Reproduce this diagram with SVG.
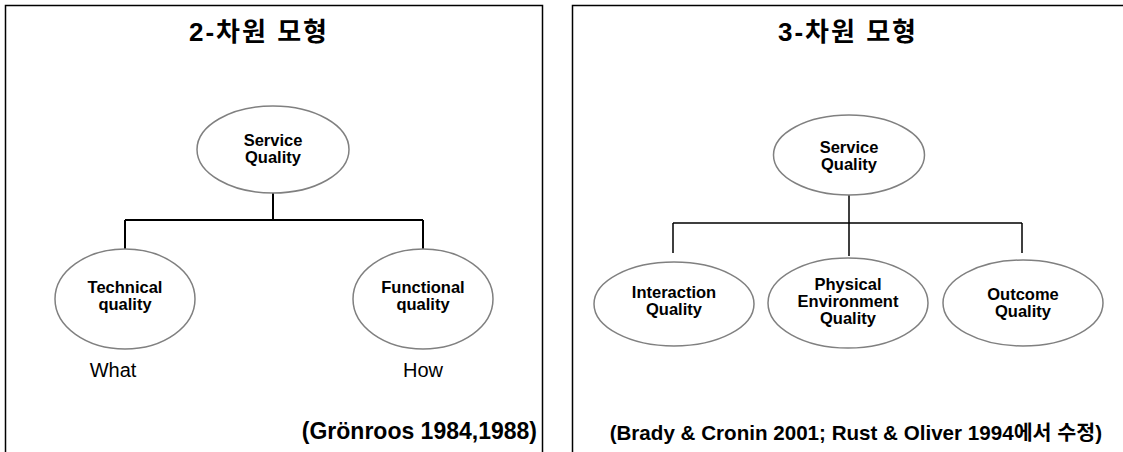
<svg xmlns="http://www.w3.org/2000/svg" width="1123" height="452" viewBox="0 0 1123 452">
<style>
.panel{fill:none;stroke:#000;stroke-width:1.5}
.title{font-family:"Liberation Sans","Noto Sans CJK KR",sans-serif;font-weight:bold;font-size:26px;letter-spacing:2px;text-anchor:middle;fill:#000}
.node{fill:#fff;stroke:#808080;stroke-width:1.5}
.lbl{font-family:"Liberation Sans",Arial,sans-serif;font-weight:bold;font-size:16.5px;text-anchor:middle;fill:#000}
.plain{font-family:"Liberation Sans",Arial,sans-serif;font-size:20px;text-anchor:middle;fill:#000}
.cite{font-family:"Liberation Sans","Noto Sans CJK KR",sans-serif;font-weight:bold;fill:#000}
.conn{fill:none;stroke:#000;stroke-width:2}
.conn2{fill:none;stroke:#000;stroke-width:1.5}
</style>
<rect width="1123" height="452" fill="#fff"/>
<g id="panel-left">
<rect class="panel" x="5.5" y="5.5" width="537" height="470"/>
<text class="title" x="259" y="41">2-차원 모형</text>
</g>
<g id="panel-right">
<rect class="panel" x="572.5" y="5.5" width="600" height="470"/>
<text class="title" x="848" y="41">3-차원 모형</text>
</g>
<g id="connectors">
<path class="conn" d="M273 193 V220 M125 220 H423 M125 220 V249 M423 220 V249"/>
<path class="conn2" d="M849 195 V223 M673 223 H1022 M673 223 V253 M849 223 V256 M1022 223 V253"/>
</g>
<g id="l-sq">
<ellipse class="node" cx="273" cy="149.5" rx="76" ry="43.5"/>
<text class="lbl" x="273" y="146">Service</text>
<text class="lbl" x="273" y="163">Quality</text>
</g>
<g id="l-tech">
<ellipse class="node" cx="125" cy="299" rx="70" ry="50"/>
<text class="lbl" x="125" y="293">Technical</text>
<text class="lbl" x="125" y="310">quality</text>
</g>
<g id="l-func">
<ellipse class="node" cx="423" cy="299" rx="70" ry="50"/>
<text class="lbl" x="423" y="293">Functional</text>
<text class="lbl" x="423" y="310">quality</text>
</g>
<g id="l-what"><text class="plain" x="113" y="377">What</text></g>
<g id="l-how"><text class="plain" x="423" y="377">How</text></g>
<g id="l-cite"><text class="cite" x="537" y="439" font-size="23" text-anchor="end">(Grönroos 1984,1988)</text></g>
<g id="r-sq">
<ellipse class="node" cx="849" cy="155" rx="75.5" ry="40"/>
<text class="lbl" x="849" y="153">Service</text>
<text class="lbl" x="849" y="170">Quality</text>
</g>
<g id="r-inter">
<ellipse class="node" cx="674" cy="304" rx="80" ry="42"/>
<text class="lbl" x="674" y="298">Interaction</text>
<text class="lbl" x="674" y="315">Quality</text>
</g>
<g id="r-phys">
<ellipse class="node" cx="848" cy="303" rx="80" ry="45"/>
<text class="lbl" x="848" y="290">Physical</text>
<text class="lbl" x="848" y="307">Environment</text>
<text class="lbl" x="848" y="324">Quality</text>
</g>
<g id="r-out">
<ellipse class="node" cx="1023" cy="303" rx="80" ry="43"/>
<text class="lbl" x="1023" y="300">Outcome</text>
<text class="lbl" x="1023" y="317">Quality</text>
</g>
<g id="r-cite"><text class="cite" x="1102" y="440" font-size="20.6" text-anchor="end">(Brady &amp; Cronin 2001; Rust &amp; Oliver 1994에서 수정)</text></g>
</svg>
